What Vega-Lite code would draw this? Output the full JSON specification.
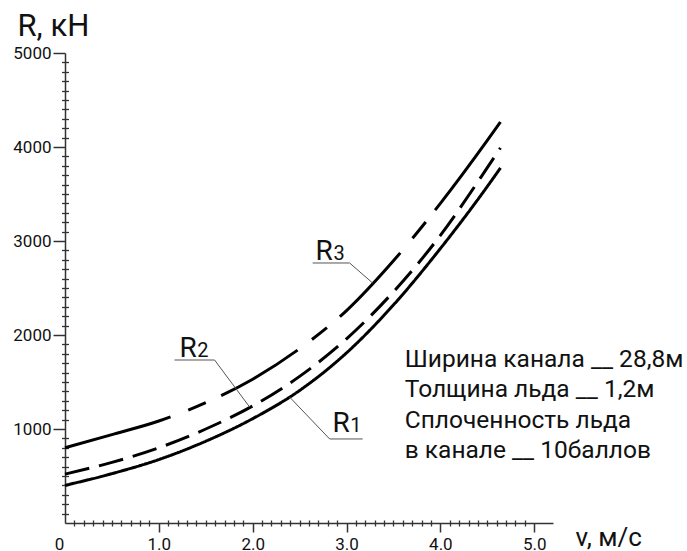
{
  "$schema": "https://vega.github.io/schema/vega-lite/v6.json",
  "autosize": {"type": "none"},
  "padding": {"left": 65, "top": 53, "right": 134, "bottom": 28},
  "width": 488,
  "height": 470,
  "background": "white",
  "config": {"view": {"stroke": null}, "font": "Roboto"},
  "datasets": {
    "curves": [
      {"v": 0, "R": 400, "series": "R1"}, {"v": 0.5, "R": 525, "series": "R1"}, {"v": 1, "R": 675, "series": "R1"},
      {"v": 1.5, "R": 870, "series": "R1"}, {"v": 2, "R": 1110, "series": "R1"}, {"v": 2.5, "R": 1410, "series": "R1"},
      {"v": 3, "R": 1810, "series": "R1"}, {"v": 3.5, "R": 2320, "series": "R1"}, {"v": 4, "R": 2920, "series": "R1"},
      {"v": 4.5, "R": 3580, "series": "R1"}, {"v": 4.64, "R": 3777, "series": "R1"},
      {"v": 0, "R": 520, "series": "R2"}, {"v": 0.5, "R": 645, "series": "R2"}, {"v": 1, "R": 800, "series": "R2"},
      {"v": 1.5, "R": 1000, "series": "R2"}, {"v": 2, "R": 1245, "series": "R2"}, {"v": 2.5, "R": 1560, "series": "R2"},
      {"v": 3, "R": 1960, "series": "R2"}, {"v": 3.5, "R": 2460, "series": "R2"}, {"v": 4, "R": 3060, "series": "R2"},
      {"v": 4.5, "R": 3780, "series": "R2"}, {"v": 4.64, "R": 3990, "series": "R2"},
      {"v": 0, "R": 800, "series": "R3"}, {"v": 0.5, "R": 940, "series": "R3"}, {"v": 1, "R": 1085, "series": "R3"},
      {"v": 1.5, "R": 1280, "series": "R3"}, {"v": 2, "R": 1530, "series": "R3"}, {"v": 2.5, "R": 1855, "series": "R3"},
      {"v": 3, "R": 2260, "series": "R3"}, {"v": 3.5, "R": 2790, "series": "R3"}, {"v": 4, "R": 3400, "series": "R3"},
      {"v": 4.5, "R": 4070, "series": "R3"}, {"v": 4.64, "R": 4266, "series": "R3"}
    ],
    "leaders": [
      {"v": 2.639, "R": 2766, "v2": 3.033, "R2": 2766},
      {"v": 3.033, "R": 2766, "v2": 3.278, "R2": 2553},
      {"v": 1.167, "R": 1734, "v2": 1.594, "R2": 1734},
      {"v": 1.594, "R": 1734, "v2": 1.967, "R2": 1234},
      {"v": 2.82, "R": 894, "v2": 3.172, "R2": 894},
      {"v": 2.82, "R": 894, "v2": 2.393, "R2": 1340}
    ],
    "rlabels": [
      {"v": 2.67, "R": 2798, "label": "R"},
      {"v": 1.22, "R": 1766, "label": "R"},
      {"v": 2.85, "R": 968, "label": "R"}
    ],
    "rdigits": [
      {"v": 2.86, "R": 2798, "label": "3"},
      {"v": 1.41, "R": 1766, "label": "2"},
      {"v": 3.04, "R": 968, "label": "1"}
    ],
    "info": [
      {"v": 3.62, "R": 1660, "text": "Ширина канала __ 28,8м"},
      {"v": 3.62, "R": 1340, "text": "Толщина льда __ 1,2м"},
      {"v": 3.62, "R": 1011, "text": "Сплоченность льда"},
      {"v": 3.62, "R": 691, "text": "в канале __ 10баллов"}
    ]
  },
  "resolve": {"axis": {"x": "independent", "y": "independent"}},
  "layer": [
    {
      "data": {"name": "curves"},
      "mark": {"type": "line", "strokeWidth": 3, "color": "black", "interpolate": "monotone", "strokeCap": "butt"},
      "encoding": {
        "x": {
          "field": "v", "type": "quantitative",
          "scale": {"domain": [0, 5.2], "nice": false, "zero": false},
          "axis": {
            "orient": "bottom",
            "values": [0, 1, 2, 3, 4, 5],
            "labelExpr": "datum.value === 0 ? '0' : format(datum.value, '.1f')",
            "grid": false, "tickSize": 9, "tickWidth": 1.5, "domainWidth": 1.5,
            "domainColor": "#333", "tickColor": "#333",
            "tickOpacity": {"condition": {"test": "datum.value === 0", "value": 0}, "value": 1},
            "labelOffset": {"condition": {"test": "datum.value === 0", "value": -6}, "value": 0},
            "labelFont": "Roboto", "labelFontSize": 17, "labelColor": "#111", "labelPadding": 4,
            "labelFlush": false, "labelOverlap": false,
            "title": "v,  м/с", "titleFont": "Roboto", "titleFontSize": 26, "titleFontWeight": "normal",
            "titleColor": "#111", "titleAngle": 0, "titleAlign": "left", "titleBaseline": "alphabetic",
            "titleX": 510, "titleY": 22, "titleAnchor": null
          }
        },
        "y": {
          "field": "R", "type": "quantitative",
          "scale": {"domain": [0, 5000], "nice": false},
          "axis": {
            "orient": "left",
            "values": [1000, 2000, 3000, 4000, 5000],
            "format": "d",
            "grid": false, "tickSize": 12, "tickWidth": 1.5, "domainWidth": 1.5,
            "domainColor": "#333", "tickColor": "#333",
            "labelFont": "Roboto", "labelFontSize": 17, "labelColor": "#111", "labelPadding": 2,
            "labelFlush": false, "labelOverlap": false,
            "title": "R,  кН", "titleFont": "Roboto", "titleFontSize": 31, "titleFontWeight": "normal",
            "titleColor": "#111", "titleAngle": 0, "titleAlign": "left", "titleBaseline": "alphabetic",
            "titleX": -48, "titleY": -18, "titleAnchor": null
          }
        },
        "strokeDash": {
          "field": "series", "type": "nominal",
          "scale": {"domain": ["R1", "R2", "R3"], "range": [[1, 0], [25, 10], [110, 19, 19, 17, 89, 18, 19, 17, 88, 19, 21, 15, 200]]},
          "legend": null
        }
      }
    },
    {
      "data": {"name": "leaders"},
      "mark": {"type": "rule", "color": "#555", "strokeWidth": 1},
      "encoding": {
        "x": {
          "field": "v", "type": "quantitative",
          "axis": {
            "orient": "bottom",
            "values": [0.1,0.2,0.3,0.4,0.5,0.6,0.7,0.8,0.9,1.1,1.2,1.3,1.4,1.5,1.6,1.7,1.8,1.9,2.1,2.2,2.3,2.4,2.5,2.6,2.7,2.8,2.9,3.1,3.2,3.3,3.4,3.5,3.6,3.7,3.8,3.9,4.1,4.2,4.3,4.4,4.5,4.6,4.7,4.8,4.9],
            "domain": false, "labels": false, "grid": false, "title": null,
            "tickSize": 6, "offset": -3, "tickWidth": 1.3, "tickColor": "#333"
          }
        },
        "y": {
          "field": "R", "type": "quantitative",
          "axis": {
            "orient": "left",
            "values": [100,200,300,400,500,600,700,800,900,1100,1200,1300,1400,1500,1600,1700,1800,1900,2100,2200,2300,2400,2500,2600,2700,2800,2900,3100,3200,3300,3400,3500,3600,3700,3800,3900,4100,4200,4300,4400,4500,4600,4700,4800,4900],
            "domain": false, "labels": false, "grid": false, "title": null,
            "tickSize": 7, "offset": -3.5, "tickWidth": 1.3, "tickColor": "#333"
          }
        },
        "x2": {"field": "v2"},
        "y2": {"field": "R2"}
      }
    },
    {
      "data": {"name": "rlabels"},
      "mark": {"type": "text", "font": "Roboto", "fontSize": 28, "align": "left", "baseline": "alphabetic", "color": "#111"},
      "encoding": {
        "x": {"field": "v", "type": "quantitative", "axis": null},
        "y": {"field": "R", "type": "quantitative", "axis": null},
        "text": {"field": "label"}
      }
    },
    {
      "data": {"name": "rdigits"},
      "mark": {"type": "text", "font": "Roboto", "fontSize": 20, "align": "left", "baseline": "alphabetic", "color": "#111"},
      "encoding": {
        "x": {"field": "v", "type": "quantitative", "axis": null},
        "y": {"field": "R", "type": "quantitative", "axis": null},
        "text": {"field": "label"}
      }
    },
    {
      "data": {"name": "info"},
      "mark": {"type": "text", "font": "Roboto", "fontSize": 24.5, "align": "left", "baseline": "alphabetic", "color": "#111"},
      "encoding": {
        "x": {"field": "v", "type": "quantitative", "axis": null},
        "y": {"field": "R", "type": "quantitative", "axis": null},
        "text": {"field": "text"}
      }
    }
  ]
}
